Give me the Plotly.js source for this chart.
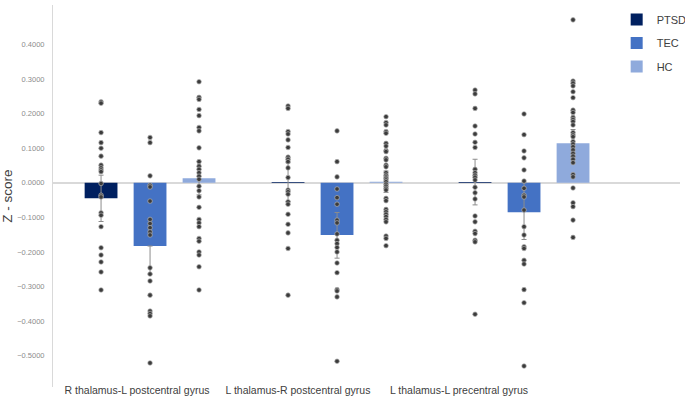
<!DOCTYPE html>
<html>
<head>
<meta charset="utf-8">
<script src="https://cdn.plot.ly/plotly-3.0.1.min.js"></script>
<style>html,body{margin:0;padding:0;background:#fff;}#chart{width:685px;height:400px;}</style>
</head>
<body>
<div id="chart"></div>
<script>
// ---- data ----
const categories = ['R thalamus-L postcentral gyrus', 'L thalamus-R postcentral gyrus', 'L thalamus-L precentral gyrus'];
const groupNames = ['PTSD', 'TEC', 'HC'];

const meanPTSD = [-0.045, 0.002, 0.002];
const meanTEC  = [-0.183, -0.151, -0.085];
const meanHC   = [0.013, 0.003, 0.114];

const errPTSDplus  = [0.067, 0.056, 0.066];
const errPTSDminus = [0.067, 0.056, 0.066];
const errTECplus   = [0.0, 0.065, 0.085];
const errTECminus  = [0.081, 0.067, 0.079];
const errHCplus    = [0.049, 0.031, 0.040];
const errHCminus   = [0.048, 0.031, 0.039];

// individual subjects, per region
const ptsd1 = [0.234, 0.230, 0.145, 0.116, 0.100, 0.077, 0.051, 0.043, 0.037, 0.032, -0.002, -0.036, -0.041, -0.087, -0.094, -0.127, -0.188, -0.209, -0.229, -0.258, -0.310];
const ptsd2 = [0.222, 0.215, 0.148, 0.141, 0.124, 0.102, 0.074, 0.068, 0.061, 0.043, 0.015, -0.021, -0.026, -0.033, -0.055, -0.062, -0.091, -0.120, -0.145, -0.190, -0.325];
const ptsd3 = [0.268, 0.257, 0.215, 0.164, 0.141, 0.117, 0.102, 0.039, 0.029, 0.022, 0.016, 0.008, -0.013, -0.029, -0.047, -0.096, -0.113, -0.140, -0.147, -0.166, -0.171, -0.380];

const tec1 = [0.131, 0.116, 0.020, -0.007, -0.012, -0.053, -0.106, -0.118, -0.130, -0.142, -0.151, -0.246, -0.264, -0.284, -0.325, -0.371, -0.378, -0.385, -0.521];
const tec2 = [0.150, 0.061, 0.017, -0.018, -0.043, -0.062, -0.108, -0.116, -0.148, -0.166, -0.176, -0.187, -0.200, -0.232, -0.260, -0.309, -0.313, -0.330, -0.516];
const tec3 = [0.199, 0.139, 0.092, 0.072, 0.037, 0.005, -0.016, -0.036, -0.041, -0.079, -0.127, -0.151, -0.185, -0.190, -0.224, -0.235, -0.309, -0.347, -0.530];

const hc1 = [0.292, 0.247, 0.241, 0.212, 0.194, 0.160, 0.150, 0.101, 0.061, 0.048, 0.039, 0.029, 0.019, 0.010, -0.010, -0.023, -0.041, -0.071, -0.106, -0.116, -0.127, -0.161, -0.169, -0.200, -0.209, -0.243, -0.310];
const hc2 = [0.191, 0.174, 0.167, 0.148, 0.143, 0.114, 0.106, 0.093, 0.090, 0.071, 0.066, 0.051, 0.046, 0.029, 0.022, 0.017, 0.013, 0.008, 0.003, -0.004, -0.010, -0.016, -0.021, -0.045, -0.052, -0.077, -0.084, -0.091, -0.098, -0.106, -0.113, -0.154, -0.161, -0.182];
const hc3 = [0.471, 0.294, 0.288, 0.280, 0.263, 0.246, 0.210, 0.203, 0.189, 0.183, 0.177, 0.167, 0.145, 0.138, 0.133, 0.119, 0.112, 0.104, 0.095, 0.085, 0.077, 0.068, 0.058, 0.024, 0.017, -0.015, -0.058, -0.069, -0.108, -0.158];

const yTickVals = [0.4, 0.3, 0.2, 0.1, 0, -0.1, -0.2, -0.3, -0.4, -0.5];

const colors = {PTSD: '#002060', TEC: '#4472C4', HC: '#8FAADC'};
const FONT = 'Liberation Sans, Arial, sans-serif';

// ---- build traces ----
function dotsTrace(name, lists) {
  const xs = [], ys = [];
  lists.forEach((vals, i) => vals.forEach(v => { xs.push(categories[i]); ys.push(v); }));
  return {
    type: 'scatter', mode: 'markers', x: xs, y: ys, name: name + ' subjects',
    showlegend: false, offsetgroup: name, hoverinfo: 'y',
    marker: {size: 4.6, color: '#3b3b3b', line: {width: 0.8, color: 'rgba(175,175,175,0.9)'}}
  };
}
function barTrace(name, means, plus, minus) {
  return {
    type: 'bar', x: categories, y: means, name: name, offsetgroup: name,
    legendgroup: name, marker: {color: colors[name]},
    error_y: {type: 'data', symmetric: false, array: plus, arrayminus: minus,
              color: '#8c8c8c', thickness: 1, width: 2.5}
  };
}

const traces = [
  barTrace('PTSD', meanPTSD, errPTSDplus, errPTSDminus),
  barTrace('TEC', meanTEC, errTECplus, errTECminus),
  barTrace('HC', meanHC, errHCplus, errHCminus),
  dotsTrace('PTSD', [ptsd1, ptsd2, ptsd3]),
  dotsTrace('TEC', [tec1, tec2, tec3]),
  dotsTrace('HC', [hc1, hc2, hc3]),
  // carrier for the region labels axis
  {type: 'scatter', mode: 'markers', x: categories, y: [null, null, null], xaxis: 'x2',
   showlegend: false, hoverinfo: 'skip', marker: {opacity: 0}}
];

const layout = {
  width: 685, height: 400,
  margin: {l: 53, r: 5, t: 5, b: 0, autoexpand: false},
  paper_bgcolor: '#ffffff', plot_bgcolor: '#ffffff',
  font: {family: FONT, color: '#404040'},
  barmode: 'group', bargap: 0.214, bargroupgap: 0.33,
  scattermode: 'group',
  showlegend: true,
  legend: {x: 0.899, y: 1.0, xanchor: 'left', yanchor: 'top', traceorder: 'grouped',
           tracegroupgap: 4.5, font: {size: 11, color: '#404040', family: FONT},
           bgcolor: 'rgba(255,255,255,0)'},
  xaxis: {type: 'category', range: [-0.519, 2.834], showline: false, showgrid: false,
          zeroline: false, showticklabels: false, ticks: ''},
  xaxis2: {type: 'category', overlaying: 'x', anchor: 'free', position: 0.01, side: 'top',
           categoryorder: 'array', categoryarray: categories, tickangle: 0,
           range: [-0.522, 3.373], showline: false, showgrid: false, zeroline: false, ticks: '',
           tickfont: {size: 10.5, color: '#404040', family: FONT}},
  yaxis: {domain: [0.0325, 1], range: [-0.591, 0.514], tickvals: yTickVals, tickformat: '.4f',
          showgrid: false, showline: true, linecolor: '#d9d9d9', linewidth: 1,
          zeroline: true, zerolinecolor: '#d9d9d9', zerolinewidth: 1.5,
          ticks: '', ticklabelstandoff: 6,
          tickfont: {size: 7.5, color: '#8c8c8c', family: FONT},
          title: {text: 'Z - score', standoff: 10,
                  font: {size: 13.5, color: '#404040', family: FONT}}}
};

Plotly.newPlot('chart', traces, layout, {displayModeBar: false, staticPlot: true});
</script>
</body>
</html>
